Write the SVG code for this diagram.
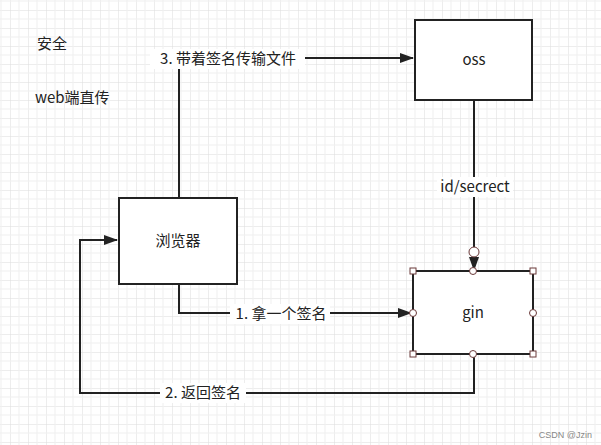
<svg xmlns="http://www.w3.org/2000/svg" width="601" height="445" viewBox="0 0 601 445">
<defs>
<pattern id="g" width="18" height="18" patternUnits="userSpaceOnUse" x="10" y="10">
<path d="M0 0H18M0 0V18" stroke="#dcdcdc" stroke-width="1" fill="none"/>
<path d="M0 9H18M9 0V18" stroke="#efefef" stroke-width="1" fill="none"/>
</pattern>
<marker id="a" markerWidth="14" markerHeight="10" refX="13" refY="5" orient="auto" markerUnits="userSpaceOnUse"><path d="M0 0L14 5L0 10z" fill="#222"/></marker>
</defs>
<style>
.b{fill:#fff;stroke:#222;stroke-width:2}
.l{fill:none;stroke:#222;stroke-width:2}
.t{font-family:"Noto Sans CJK SC","Liberation Sans",sans-serif;font-size:15px;fill:#222}
.lb{font-family:"Noto Sans CJK SC","Liberation Sans",sans-serif;font-size:15px;fill:#222;text-anchor:middle}
.h{fill:#fff;stroke:#6b3a3a;stroke-width:1}
</style>
<rect width="601" height="445" fill="#fff"/>
<rect width="601" height="445" fill="url(#g)"/>
<text class="t" x="37" y="49">安全</text>
<text class="t" x="35" y="103">web端直传</text>
<g id="connectors">
<path class="l" d="M179 198V58H413" marker-end="url(#a)"/>
<path class="l" d="M474 100V270" marker-end="url(#a)"/>
<path class="l" d="M179 284V313H411" marker-end="url(#a)"/>
<path class="l" d="M474 354V393H80V240H117" marker-end="url(#a)"/>
<rect x="150" y="49" width="155" height="20" fill="#fff"/>
<text class="lb" x="228" y="64">3. 带着签名传输文件</text>
<rect x="437" y="177" width="76" height="20" fill="#fff"/>
<text class="lb" x="475" y="192">id/secrect</text>
<rect x="230" y="304" width="100" height="20" fill="#fff"/>
<text class="lb" x="281" y="319">1. 拿一个签名</text>
<rect x="160" y="383" width="86" height="20" fill="#fff"/>
<text class="lb" x="203" y="398">2. 返回签名</text>
</g>
<g id="oss"><rect class="b" x="415" y="20" width="117" height="80"/><text class="lb" x="474" y="65">oss</text></g>
<g id="browser"><rect class="b" x="119" y="198" width="118" height="86"/><text class="lb" x="178" y="246">浏览器</text></g>
<g id="gin"><rect class="b" x="413" y="271" width="120" height="83"/><text class="lb" x="473" y="318">gin</text>
<circle class="h" cx="474" cy="252" r="5"/>
<rect class="h" x="410" y="268" width="6" height="6"/><rect class="h" x="530" y="268" width="6" height="6"/>
<rect class="h" x="410" y="351" width="6" height="6"/><rect class="h" x="530" y="351" width="6" height="6"/>
<circle class="h" cx="473" cy="271" r="3.5"/><circle class="h" cx="473" cy="354" r="3.5"/>
<circle class="h" cx="413" cy="313" r="3.5"/><circle class="h" cx="533" cy="313" r="3.5"/>
</g>
<text x="592" y="438" font-family="Liberation Sans,sans-serif" font-size="9" fill="#888" text-anchor="end">CSDN @Jzin</text>
</svg>
